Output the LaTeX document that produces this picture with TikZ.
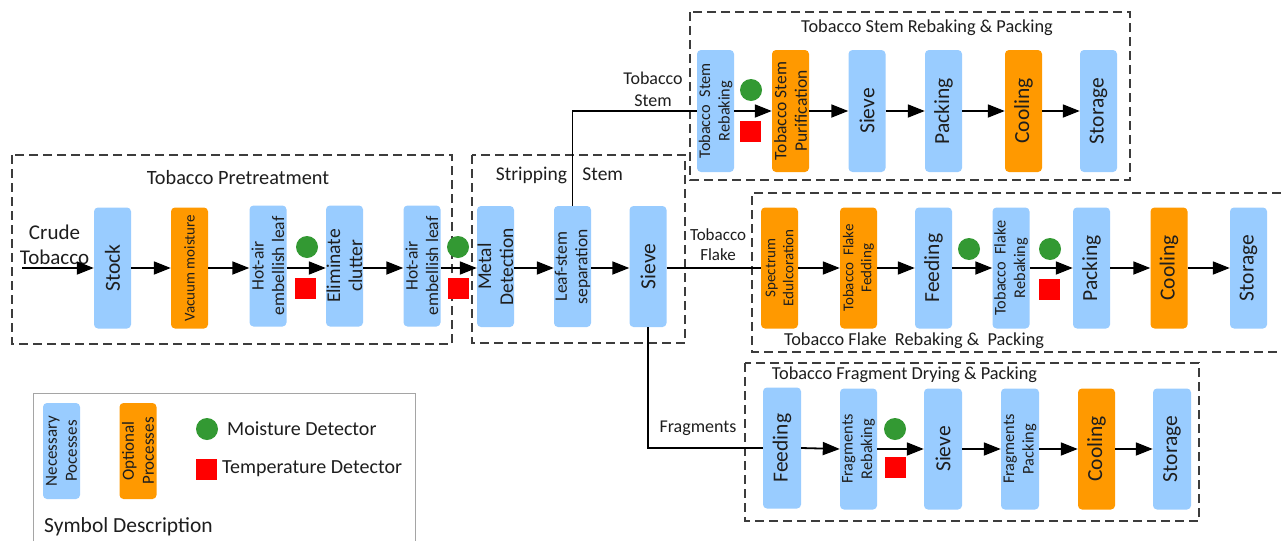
\documentclass[tikz,border=0pt]{standalone}
\usepackage{fontspec}
\setmainfont{Carlito}
\usetikzlibrary{arrows.meta}
\definecolor{necblue}{RGB}{153,204,255}
\definecolor{optorange}{RGB}{255,153,0}
\definecolor{mgreen}{RGB}{51,153,51}
\definecolor{tred}{RGB}{255,0,0}
\definecolor{txt}{RGB}{30,30,30}
\definecolor{dashc}{RGB}{60,60,60}
\definecolor{leggray}{RGB}{165,165,165}
\begin{document}
\begin{tikzpicture}[x=1pt,y=-1pt,
  every node/.style={text=txt, inner sep=0pt},
  nec/.style={fill=necblue, rounded corners=4pt, minimum width=37pt, minimum height=121pt},
  opt/.style={nec, fill=optorange},
  rot/.style={rotate=90, align=center},
  fXL/.style={font=\fontsize{21.5}{24}\selectfont},
  fL/.style={font=\fontsize{19.5}{22}\selectfont},
  fM/.style={font=\fontsize{17.5}{20.5}\selectfont},
  fS/.style={font=\fontsize{16.3}{19.5}\selectfont},
  fXS/.style={font=\fontsize{15}{18}\selectfont},
  ttl/.style={font=\fontsize{18.3}{22}\selectfont},
  grp/.style={draw=dashc, line width=1.4pt, dash pattern=on 9pt off 5pt},
  arr/.style={-{Triangle[length=17pt,width=13pt]}, line width=1.8pt, black},
  lnk/.style={line width=1.3pt, black},
  moist/.style={circle, fill=mgreen, minimum size=22pt},
  temp/.style={rectangle, fill=tred, minimum size=21pt},
]
\useasboundingbox (0,0) rectangle (1281,541);
\fill[white] (0,0) rectangle (1281,541);

% ---------- group frames ----------
\draw[grp] (12,155) rectangle (452,344);
\draw[grp] (472,155) rectangle (685,343);
\draw[grp] (690,12) rectangle (1130,180);
\draw[grp] (1281,193) -- (752,193) -- (752,352) -- (1281,352);
\draw[grp] (745,363) rectangle (1199,521);

\node[font=\fontsize{20.3}{23}\selectfont] (t1) at (238,178) {Tobacco Pretreatment};
\node[font=\fontsize{19.5}{22}\selectfont] (t2) at (559.5,175) {Stripping\hspace{11pt} Stem};
\node[ttl] (t3) at (927,28) {Tobacco Stem Rebaking \& Packing};
\node[ttl] (t4) at (914,341) {Tobacco Flake\ \ Rebaking \&\ \ Packing};
\node[ttl] (t5) at (904.5,375) {Tobacco Fragment Drying \& Packing};

% ---------- pretreatment ----------
\node[nec, label={[rot,fXL]center:Stock}] (stock) at (112.5,268) {};
\node[opt, label={[rot,fXS]center:Vacuum moisture}] (vac) at (189.5,268) {};
\node[nec, label={[rot,fM]center:Hot-air\\embellish leaf}] (hot1) at (268,266) {};
\node[nec, label={[rot,fL]center:Eliminate\\clutter}] (elim) at (344.5,266) {};
\node[nec, label={[rot,fM]center:Hot-air\\embellish leaf}] (hot2) at (422,266) {};

% ---------- stripping stem ----------
\node[nec, label={[rot,fL]center:Metal\\Detection}] (metal) at (495.5,266.5) {};
\node[nec, label={[rot,fM]center:Leaf-stem\\separation}] (leaf) at (572.5,266.5) {};
\node[nec, label={[rot,fXL]center:Sieve}] (sieve1) at (648,266.5) {};

% ---------- stem rebaking ----------
\node[nec, minimum height=122pt, label={[rot,fS]center:Tobacco\ \ Stem\\Rebaking}] (tsr) at (715.5,111) {};
\node[opt, minimum height=122pt, label={[rot,fM]center:Tobacco Stem\\Purification}] (tsp) at (790.5,111) {};
\node[nec, minimum height=122pt, label={[rot,fXL]center:Sieve}] (sieve2) at (867,111) {};
\node[nec, minimum height=122pt, label={[rot,fXL]center:Packing}] (pack2) at (943.5,111) {};
\node[opt, minimum height=122pt, label={[rot,fXL]center:Cooling}] (cool2) at (1023.5,111) {};
\node[nec, minimum height=122pt, label={[rot,fXL]center:Storage}] (stor2) at (1098.5,111) {};

% ---------- flake rebaking ----------
\node[opt, label={[rot,fXS]center:Spectrum\\Edulcoration}] (spec) at (779.5,268) {};
\node[opt, label={[rot,fXS]center:Tobacco\ \ Flake\\Fedding}] (tff) at (858.5,268) {};
\node[nec, label={[rot,fXL]center:Feeding}] (feed2) at (933.5,268) {};
\node[nec, label={[rot,fS]center:Tobacco\ \ Flake\\Rebaking}] (tfr) at (1011,268) {};
\node[nec, label={[rot,fXL]center:Packing}] (pack3) at (1091.5,268) {};
\node[opt, label={[rot,fXL]center:Cooling}] (cool3) at (1169,268) {};
\node[nec, label={[rot,fXL]center:Storage}] (stor3) at (1248.5,268) {};

% ---------- fragment drying ----------
\node[nec, minimum width=38pt, label={[rot,fXL]center:Feeding}] (feed4) at (782,448) {};
\node[nec, label={[rot,fS]center:Fragments\\Rebaking}] (frb) at (858.5,449) {};
\node[nec, minimum width=38pt, label={[rot,fXL]center:Sieve}] (sieve4) at (943,449) {};
\node[nec, minimum width=38pt, label={[rot,fS]center:Fragments\\Packing}] (fpk) at (1020,449) {};
\node[opt, label={[rot,fXL]center:Cooling}] (cool4) at (1096.5,449) {};
\node[nec, minimum width=38pt, label={[rot,fXL]center:Storage}] (stor4) at (1172,449) {};

% ---------- connectors ----------
\coordinate (cstart) at (22,268);
\node[align=center, font=\fontsize{21}{25}\selectfont] (crude) at (54.5,244.5) {Crude\\Tobacco};
\draw[arr] (cstart) -- (stock.west);
\draw[arr] (stock.east) -- (vac.west);
\draw[arr] (vac.east) -- (vac.east -| hot1.west);
\draw[arr] (hot1.east |- vac.east) -- (elim.west |- vac.east);
\draw[arr] (elim.east |- vac.east) -- (hot2.west |- vac.east);
\draw[arr] (hot2.east |- vac.east) -- (metal.west |- vac.east);
\draw[arr] (metal.east |- vac.east) -- (leaf.west |- vac.east);
\draw[arr] (leaf.east |- vac.east) -- (sieve1.west |- vac.east);

\draw[lnk] (leaf.north) |- (tsr.west);
\draw[lnk] (sieve1.east |- spec.west) -- (spec.west);
\draw[lnk] (sieve1.south) |- (feed4.west);
\node[align=center, font=\fontsize{18}{22}\selectfont] (lstem) at (653,89) {Tobacco\\Stem};
\node[align=center, font=\fontsize{17}{20}\selectfont] (lflake) at (718,245) {Tobacco\\Flake};
\node[font=\fontsize{18}{22}\selectfont] (lfrag) at (698,428) {Fragments};

\draw[arr] (tsr.east) -- (tsp.west);
\draw[arr] (tsp.east) -- (sieve2.west);
\draw[arr] (sieve2.east) -- (pack2.west);
\draw[arr] (pack2.east) -- (cool2.west);
\draw[arr] (cool2.east) -- (stor2.west);

\draw[arr] (spec.east) -- (tff.west);
\draw[arr] (tff.east) -- (feed2.west);
\draw[arr] (feed2.east) -- (tfr.west);
\draw[arr] (tfr.east) -- (pack3.west);
\draw[arr] (pack3.east) -- (cool3.west);
\draw[arr] (cool3.east) -- (stor3.west);

\draw[arr] (feed4.east) -- (frb.west);
\draw[arr] (frb.east) -- (sieve4.west);
\draw[arr] (sieve4.east) -- (fpk.west);
\draw[arr] (fpk.east) -- (cool4.west);
\draw[arr] (cool4.east) -- (stor4.west);

% ---------- detectors ----------
\node[moist] (m1) at (307,247) {};
\node[temp] (r1) at (305,288.5) {};
\node[moist] (m2) at (458,247) {};
\node[temp] (r2) at (458,288.5) {};
\node[moist] (m3) at (751,90) {};
\node[temp] (r3) at (750.5,131.5) {};
\node[moist] (m4) at (969,249) {};
\node[moist] (m5) at (1050,249) {};
\node[temp] (r5) at (1049.5,289) {};
\node[moist] (m6) at (895,429) {};
\node[temp] (r6) at (895,467.5) {};

% ---------- legend ----------
\draw[draw=leggray, line width=1pt] (33,541) -- (33,393) -- (415,393) -- (415,541);
\node[nec, minimum height=96pt, label={[rot,font=\fontsize{17}{20}\selectfont]center:Necessary\\Pocesses}] (lnec) at (61.5,451) {};
\node[opt, minimum height=96pt, label={[rot,font=\fontsize{17}{20}\selectfont]center:Optional\\Processes}] (lopt) at (138,451) {};
\node[moist] (lm) at (207,429) {};
\node[anchor=west, font=\fontsize{20}{24}\selectfont] (lmt) at (227,429) {Moisture Detector};
\node[temp] (lt) at (206,469.5) {};
\node[anchor=west, font=\fontsize{20}{24}\selectfont] (ltt) at (222,469) {Temperature Detector};
\node[anchor=west, font=\fontsize{21.5}{25}\selectfont] (lsd) at (44,527) {Symbol Description};
\end{tikzpicture}
\end{document}
